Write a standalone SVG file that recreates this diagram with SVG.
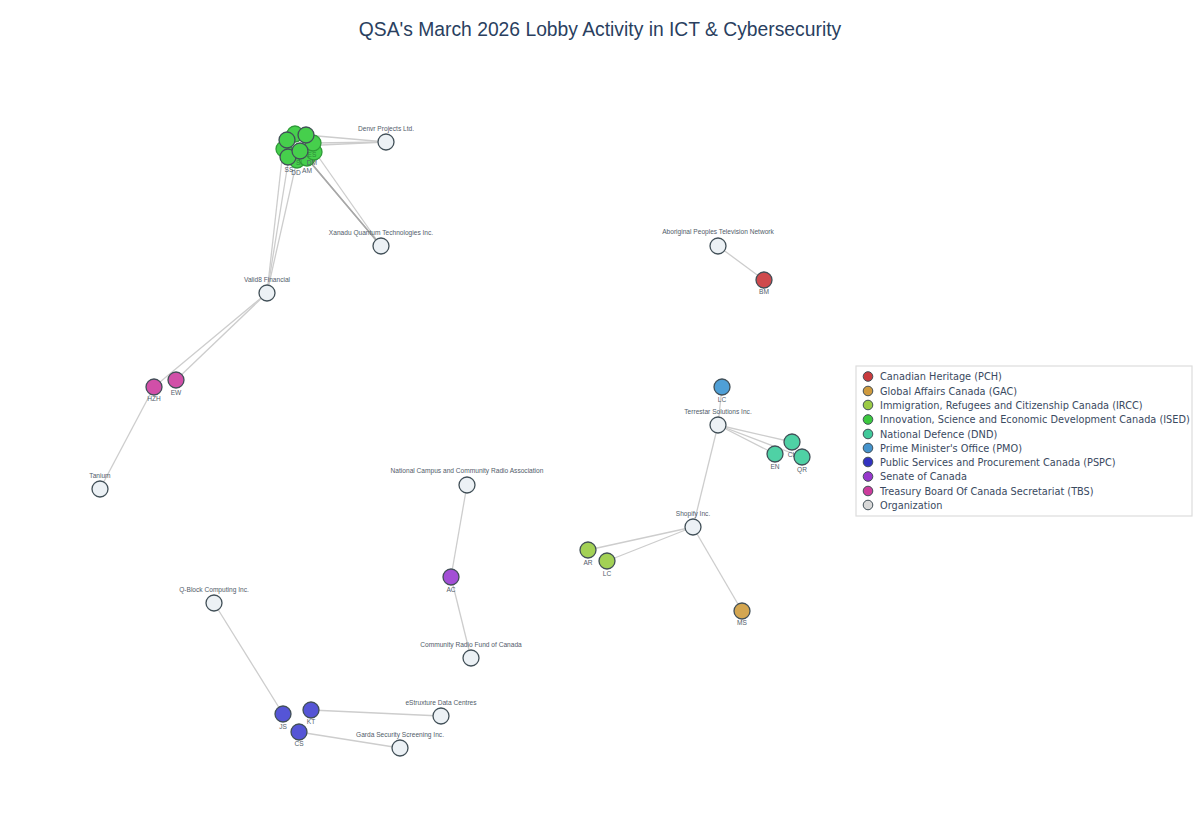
<svg xmlns="http://www.w3.org/2000/svg" width="1200" height="840" viewBox="0 0 1200 840">
<style>
text{font-family:"Liberation Sans",Arial,sans-serif;fill:#525c6a}
.l{font-size:6.6px;text-anchor:middle}
.t{font-size:19.3px;text-anchor:middle;fill:#2a3f5f}
.g{font-family:"DejaVu Sans",Verdana,sans-serif;font-size:9.75px;fill:#3a4a5f}
#edges line{stroke:#cdcdcd;stroke-width:1.3}
#edges .d{stroke:#a8a8a8}
circle{stroke:#414f57;stroke-width:1.3}
.org{fill:#ecf1f5;r:8px}
.n{r:8px}
.b{stroke:#2f9a38}
.pch{fill:#cf4a4d}.gac{fill:#d4a650}.ircc{fill:#a3d155}.ised{fill:#46cf4c}.dnd{fill:#4fd1a5}.pmo{fill:#4f9fd6}.pspc{fill:#5555d6}.sen{fill:#a34fd6}.tbs{fill:#d14fa8}
.lg circle{stroke-width:1;r:4.8px}
.lg .pch{fill:#c93b3e}.lg .gac{fill:#cf9a3e}.lg .ircc{fill:#9ccb45}.lg .ised{fill:#3cc83f}.lg .dnd{fill:#40c99a}.lg .pmo{fill:#4593cc}.lg .pspc{fill:#3232c0}.lg .sen{fill:#9838cc}.lg .tbs{fill:#cc3c9c}
</style>
<rect width="1200" height="840" fill="#fff"/>
<text class="t" x="600" y="36">QSA's March 2026 Lobby Activity in ICT &amp; Cybersecurity</text>
<g id="edges">
<line x1="306" y1="135" x2="386" y2="142"/><line x1="313" y1="143" x2="386" y2="142"/><line x1="300" y1="146" x2="386" y2="142"/>
<line x1="315" y1="152" x2="381" y2="246"/><line class="d" x1="307" y1="158" x2="381" y2="246"/><line class="d" x1="305" y1="156" x2="381" y2="246"/>
<line x1="283" y1="150" x2="267" y2="293"/><line x1="289" y1="157" x2="267" y2="293"/><line x1="297" y1="160" x2="267" y2="293"/>
<line x1="267" y1="293" x2="154" y2="387"/><line x1="267" y1="293" x2="176" y2="380"/>
<line x1="154" y1="387" x2="100" y2="489"/>
<line x1="718" y1="246" x2="764" y2="280"/>
<line x1="722" y1="387" x2="718" y2="425"/><line x1="718" y1="425" x2="792" y2="442"/><line x1="718" y1="425" x2="775" y2="454"/><line x1="718" y1="425" x2="802" y2="457"/><line x1="718" y1="425" x2="693" y2="527"/>
<line x1="693" y1="527" x2="588" y2="550"/><line x1="693" y1="527" x2="607" y2="561"/><line x1="693" y1="527" x2="742" y2="611"/>
<line x1="467" y1="485" x2="451" y2="577"/><line x1="451" y1="577" x2="471" y2="658"/>
<line x1="214" y1="603" x2="283" y2="714"/><line x1="311" y1="710" x2="441" y2="716"/><line x1="299" y1="732" x2="400" y2="748"/>
</g>
<g id="denvr"><circle class="org" cx="386" cy="142"/><text class="l" x="386" y="131">Denvr Projects Ltd.</text></g>
<g id="xanadu"><circle class="org" cx="381" cy="246"/><text class="l" x="381" y="235">Xanadu Quantum Technologies Inc.</text></g>
<g id="valid8"><circle class="org" cx="267" cy="293"/><text class="l" x="267" y="282">Valid8 Financial</text></g>
<g id="tanium"><circle class="org" cx="100" cy="489"/><text class="l" x="100" y="478">Tanium</text></g>
<g id="aptn"><circle class="org" cx="718" cy="246"/><text class="l" x="718" y="234">Aboriginal Peoples Television Network</text></g>
<g id="terrestar"><circle class="org" cx="718" cy="425"/><text class="l" x="718" y="414">Terrestar Solutions Inc.</text></g>
<g id="shopify"><circle class="org" cx="693" cy="527"/><text class="l" x="693" y="516">Shopify Inc.</text></g>
<g id="ncra"><circle class="org" cx="467" cy="485"/><text class="l" x="467" y="473">National Campus and Community Radio Association</text></g>
<g id="crfc"><circle class="org" cx="471" cy="658"/><text class="l" x="471" y="647">Community Radio Fund of Canada</text></g>
<g id="qblock"><circle class="org" cx="214" cy="603"/><text class="l" x="214" y="592">Q-Block Computing Inc.</text></g>
<g id="estruxture"><circle class="org" cx="441" cy="716"/><text class="l" x="441" y="705">eStruxture Data Centres</text></g>
<g id="garda"><circle class="org" cx="400" cy="748"/><text class="l" x="400" y="737">Garda Security Screening Inc.</text></g>
<g id="BM"><circle class="n pch" cx="764" cy="280"/><text class="l" x="764" y="294">BM</text></g>
<g id="LC1"><circle class="n pmo" cx="722" cy="387"/><text class="l" x="722" y="402">LC</text></g>
<g id="CL"><circle class="n dnd" cx="792" cy="442"/><text class="l" x="792" y="457">CL</text></g>
<g id="EN"><circle class="n dnd" cx="775" cy="454"/><text class="l" x="775" y="469">EN</text></g>
<g id="QR"><circle class="n dnd" cx="802" cy="457"/><text class="l" x="802" y="472">QR</text></g>
<g id="AR"><circle class="n ircc" cx="588" cy="550"/><text class="l" x="588" y="565">AR</text></g>
<g id="LC2"><circle class="n ircc" cx="607" cy="561"/><text class="l" x="607" y="576">LC</text></g>
<g id="MS"><circle class="n gac" cx="742" cy="611"/><text class="l" x="742" y="625">MS</text></g>
<g id="AC"><circle class="n sen" cx="451" cy="577"/><text class="l" x="451" y="592">AC</text></g>
<g id="JS"><circle class="n pspc" cx="283" cy="714"/><text class="l" x="283" y="729">JS</text></g>
<g id="KT"><circle class="n pspc" cx="311" cy="710"/><text class="l" x="311" y="724">KT</text></g>
<g id="CS"><circle class="n pspc" cx="299" cy="732"/><text class="l" x="299" y="746">CS</text></g>
<g id="HZH"><circle class="n tbs" cx="154" cy="387"/><text class="l" x="154" y="401">HZH</text></g>
<g id="EW"><circle class="n tbs" cx="176" cy="380"/><text class="l" x="176" y="395">EW</text></g>
<g id="ised-cluster">
<circle class="n ised b" cx="297" cy="160"/><circle class="n ised b" cx="307" cy="158"/><circle class="n ised b" cx="314" cy="152"/><circle class="n ised b" cx="313" cy="143"/><circle class="n ised b" cx="295" cy="134"/><circle class="n ised b" cx="284" cy="149"/>
<text class="l" x="312" y="157" style="fill:#2f8a3a">ES</text><text class="l" x="312" y="165">DM</text><text class="l" x="299" y="165" style="fill:#2f8a3a">SI</text>
<circle class="n ised" cx="287" cy="140"/><circle class="n ised" cx="306" cy="135"/><circle class="n ised" cx="288" cy="157"/><circle class="n ised" cx="300" cy="151"/>
<text class="l" x="289" y="172">SS</text><text class="l" x="296" y="175">DD</text><text class="l" x="307" y="173">AM</text>
</g>
<g id="legend" class="lg">
<rect x="856" y="366" width="336" height="150" fill="#fff" stroke="#ddd" stroke-width="1.2"/>
<circle class="pch" cx="868" cy="376.500"/><text class="g" x="880" y="380">Canadian Heritage (PCH)</text>
<circle class="gac" cx="868" cy="391"/><text class="g" x="880" y="394.500">Global Affairs Canada (GAC)</text>
<circle class="ircc" cx="868" cy="405"/><text class="g" x="880" y="408.500">Immigration, Refugees and Citizenship Canada (IRCC)</text>
<circle class="ised" cx="868" cy="419.500"/><text class="g" x="880" y="423">Innovation, Science and Economic Development Canada (ISED)</text>
<circle class="dnd" cx="868" cy="434"/><text class="g" x="880" y="437.500">National Defence (DND)</text>
<circle class="pmo" cx="868" cy="448"/><text class="g" x="880" y="451.500">Prime Minister's Office (PMO)</text>
<circle class="pspc" cx="868" cy="462"/><text class="g" x="880" y="465.500">Public Services and Procurement Canada (PSPC)</text>
<circle class="sen" cx="868" cy="476.500"/><text class="g" x="880" y="480">Senate of Canada</text>
<circle class="tbs" cx="868" cy="491"/><text class="g" x="880" y="494.500">Treasury Board Of Canada Secretariat (TBS)</text>
<circle fill="#d8d8d8" cx="868" cy="505"/><text class="g" x="880" y="508.500">Organization</text>
</g>
</svg>
